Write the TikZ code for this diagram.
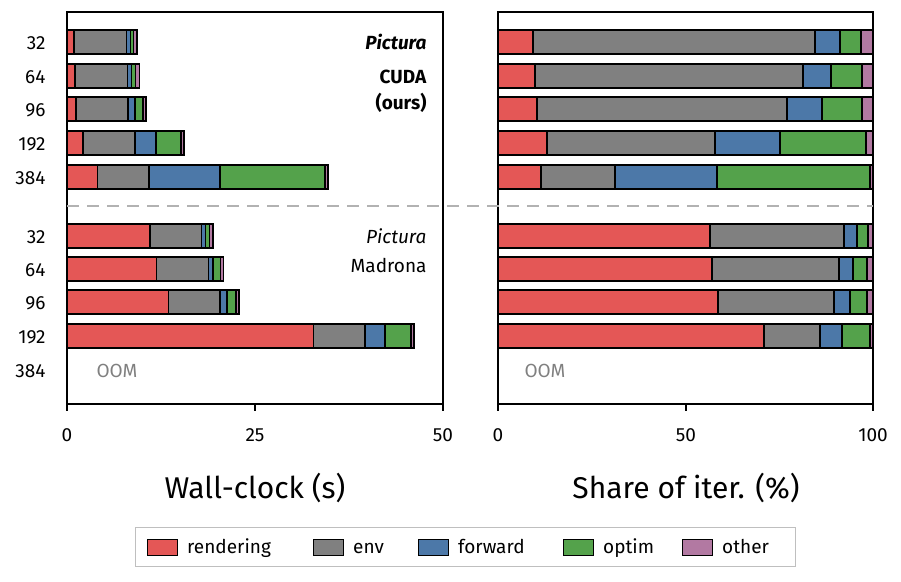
\documentclass[tikz,border=0pt]{standalone}
\usepackage{fontspec}
\setmainfont{Fira Sans}
\begin{document}
\begin{tikzpicture}[x=1pt,y=-1pt,
  seg/.style={draw=black,line width=1.3pt},
  lab/.style={font=\fontsize{19}{22}\selectfont,anchor=base east}]
\definecolor{cR}{HTML}{E45756}\definecolor{cG}{HTML}{808080}
\definecolor{cB}{HTML}{4C78A8}\definecolor{cO}{HTML}{54A24B}\definecolor{cP}{HTML}{B279A2}
\useasboundingbox (0,0) rectangle (901,581);
\newcommand{\stbar}[7]{% y, x0, r, g, b, o, p
  \filldraw[seg,fill=cR] (#2,#1-12) rectangle (#3,#1+12);
  \filldraw[seg,fill=cG] (#3,#1-12) rectangle (#4,#1+12);
  \filldraw[seg,fill=cB] (#4,#1-12) rectangle (#5,#1+12);
  \filldraw[seg,fill=cO] (#5,#1-12) rectangle (#6,#1+12);
  \filldraw[seg,fill=cP] (#6,#1-12) rectangle (#7,#1+12);}
% left panel
\stbar{42}{67}{74}{126.7}{130.7}{133.3}{137}
\stbar{76}{67}{75}{127.3}{131.7}{135.7}{139.5}
\stbar{109}{67}{76}{128}{135}{143}{146}
\stbar{143}{67}{83}{135}{156}{181}{184}
\stbar{177}{67}{97.7}{149}{220}{325}{328}
\stbar{236}{67}{150}{201.7}{205.7}{209.3}{213}
\stbar{269}{67}{156.7}{208.7}{213}{220.7}{223.5}
\stbar{302}{67}{168.3}{220}{227}{236}{239}
\stbar{336}{67}{313.3}{365}{385}{411}{414}
% right panel
\stbar{42}{498}{533}{815}{840}{861}{873}
\stbar{76}{498}{535}{803}{831}{862}{873}
\stbar{109}{498}{537}{787}{822}{862}{873}
\stbar{143}{498}{547}{715}{780}{866}{873}
\stbar{177}{498}{541}{615}{717}{870}{873}
\stbar{236}{498}{710}{844}{857}{868}{873}
\stbar{269}{498}{712}{839}{853}{867}{873}
\stbar{302}{498}{718}{834}{850}{867}{873}
\stbar{336}{498}{764}{820}{842}{870}{873}
% frames
\draw[line width=1.3pt] (67,12) rectangle (443,404);
\draw[line width=1.3pt] (498,12) rectangle (873,404);
\draw[gray!60,line width=1.3pt,dash pattern=on 12pt off 8pt] (67,206) -- (873,206);
% y labels
\foreach \y/\t in {42/32,76/64,109/96,143/192,177/384,236/32,269/64,302/96,336/192,370/384}
  \node[lab] at (49,\y+7) {\t};
\node[font=\fontsize{19}{22}\selectfont,text=gray,anchor=base west] at (93,377) {OOM};
\node[font=\fontsize{19}{22}\selectfont,text=gray,anchor=base west] at (521,377) {OOM};
% panel texts
\node[lab] at (430,49) {\textbf{\textit{Pictura}}};
\node[lab] at (430,83) {\textbf{CUDA}};
\node[lab] at (430,109) {\textbf{(ours)}};
\node[lab] at (430,243) {\textit{Pictura}};
\node[lab] at (430,272) {Madrona};
% ticks
\foreach \x/\t in {67/0,255/25,443/50,498/0,686/50,873/100}{
  \draw[line width=1.3pt] (\x,404) -- (\x,411);
  \node[font=\fontsize{19}{22}\selectfont,anchor=base] at (\x,441) {\t};}
\node[font=\fontsize{30}{34}\selectfont,anchor=base] at (255,498) {Wall-clock (s)};
\node[font=\fontsize{30}{34}\selectfont,anchor=base] at (686,498) {Share of iter. (\%)};
% legend
\draw[gray!50,line width=1pt] (135,527) rectangle (795,566);
\foreach \x/\c/\t in {147/cR/rendering,313/cG/env,418/cB/forward,563/cO/optim,682/cP/other}{
  \filldraw[draw=black,line width=1pt,fill=\c] (\x,539) rectangle (\x+30,555);
  \node[font=\fontsize{19}{22}\selectfont,anchor=base west,inner sep=0] at (\x+40,553) {\t};}
\end{tikzpicture}
\end{document}
